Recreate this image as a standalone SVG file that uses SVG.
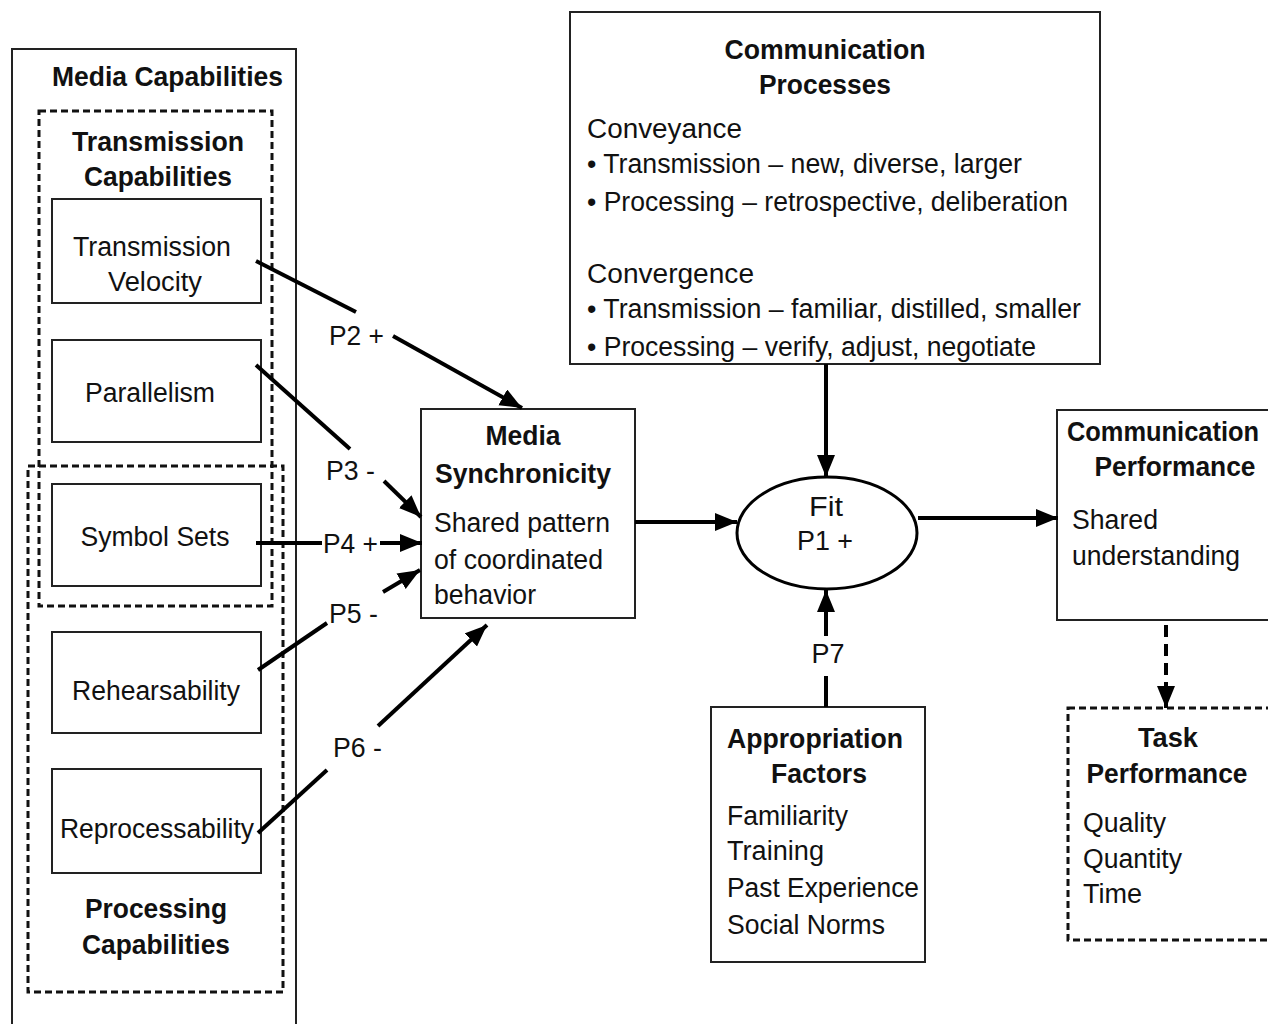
<svg xmlns="http://www.w3.org/2000/svg" width="1268" height="1024" viewBox="0 0 1268 1024">
<style>
text{font-family:"Liberation Sans",Arial,sans-serif;font-size:27px;fill:#111}
.b{font-weight:bold}
.m{text-anchor:middle}
.box{fill:#fff;stroke:#222;stroke-width:2}
.dash{fill:none;stroke:#111;stroke-width:3;stroke-dasharray:7 4}
.c{fill:none;stroke:#000;stroke-width:4}
</style>
<defs>
<marker id="ah" markerUnits="userSpaceOnUse" markerWidth="24" markerHeight="20" refX="22" refY="9" orient="auto">
<path d="M0,0 L22,9 L0,18 Z" fill="#000"/>
</marker>
</defs>
<rect width="1268" height="1024" fill="#fff"/>

<g id="media-capabilities">
<rect class="box" x="12" y="49" width="284" height="990"/>
<text class="b" x="52" y="86" textLength="231" lengthAdjust="spacingAndGlyphs">Media Capabilities</text>
</g>
<g id="transmission-capabilities">
<rect class="dash" x="39" y="111" width="233" height="495"/>
<text class="b m" x="158" y="151" textLength="172" lengthAdjust="spacingAndGlyphs">Transmission</text>
<text class="b m" x="158" y="186" textLength="148" lengthAdjust="spacingAndGlyphs">Capabilities</text>
</g>
<g id="processing-capabilities">
<rect class="dash" x="28" y="466" width="255" height="526"/>
<text class="b m" x="156" y="918" textLength="142" lengthAdjust="spacingAndGlyphs">Processing</text>
<text class="b m" x="156" y="954" textLength="148" lengthAdjust="spacingAndGlyphs">Capabilities</text>
</g>
<g id="transmission-velocity">
<rect class="box" x="52" y="199" width="209" height="104"/>
<text class="m" x="152" y="256" textLength="158" lengthAdjust="spacingAndGlyphs">Transmission</text>
<text class="m" x="155" y="291" textLength="94" lengthAdjust="spacingAndGlyphs">Velocity</text>
</g>
<g id="parallelism">
<rect class="box" x="52" y="340" width="209" height="102"/>
<text class="m" x="150" y="402" textLength="130" lengthAdjust="spacingAndGlyphs">Parallelism</text>
</g>
<g id="symbol-sets">
<rect class="box" x="52" y="484" width="209" height="102"/>
<text class="m" x="155" y="546" textLength="149" lengthAdjust="spacingAndGlyphs">Symbol Sets</text>
</g>
<g id="rehearsability">
<rect class="box" x="52" y="632" width="209" height="101"/>
<text class="m" x="156" y="700" textLength="168" lengthAdjust="spacingAndGlyphs">Rehearsability</text>
</g>
<g id="reprocessability">
<rect class="box" x="52" y="769" width="209" height="104"/>
<text class="m" x="157" y="838" textLength="194" lengthAdjust="spacingAndGlyphs">Reprocessability</text>
</g>

<g id="media-synchronicity">
<rect class="box" x="421" y="409" width="214" height="209"/>
<text class="b m" x="523" y="445" textLength="75" lengthAdjust="spacingAndGlyphs">Media</text>
<text class="b m" x="523" y="483" textLength="176" lengthAdjust="spacingAndGlyphs">Synchronicity</text>
<text x="434" y="532" textLength="176" lengthAdjust="spacingAndGlyphs">Shared pattern</text>
<text x="434" y="569" textLength="169" lengthAdjust="spacingAndGlyphs">of coordinated</text>
<text x="434" y="604" textLength="102" lengthAdjust="spacingAndGlyphs">behavior</text>
</g>

<g id="communication-processes">
<rect class="box" x="570" y="12" width="530" height="352"/>
<text class="b m" x="825" y="59" textLength="201" lengthAdjust="spacingAndGlyphs">Communication</text>
<text class="b m" x="825" y="94" textLength="132" lengthAdjust="spacingAndGlyphs">Processes</text>
<text x="587" y="138" textLength="155" lengthAdjust="spacingAndGlyphs">Conveyance</text>
<text x="587" y="173" textLength="435" lengthAdjust="spacingAndGlyphs">• Transmission – new, diverse, larger</text>
<text x="587" y="211" textLength="481" lengthAdjust="spacingAndGlyphs">• Processing – retrospective, deliberation</text>
<text x="587" y="283" textLength="167" lengthAdjust="spacingAndGlyphs">Convergence</text>
<text x="587" y="318" textLength="494" lengthAdjust="spacingAndGlyphs">• Transmission – familiar, distilled, smaller</text>
<text x="587" y="356" textLength="449" lengthAdjust="spacingAndGlyphs">• Processing – verify, adjust, negotiate</text>
</g>

<g id="fit">
<ellipse cx="827" cy="533" rx="90" ry="56" fill="#fff" stroke="#000" stroke-width="3"/>
<text class="m" x="826" y="516" textLength="34" lengthAdjust="spacingAndGlyphs">Fit</text>
<text class="m" x="825" y="550" textLength="56" lengthAdjust="spacingAndGlyphs">P1 +</text>
</g>

<g id="communication-performance">
<rect class="box" x="1057" y="410" width="230" height="210"/>
<text class="b" x="1067" y="441" font-size="26" textLength="192" lengthAdjust="spacingAndGlyphs">Communication</text>
<text class="b m" x="1175" y="476" textLength="161" lengthAdjust="spacingAndGlyphs">Performance</text>
<text x="1072" y="529" textLength="86" lengthAdjust="spacingAndGlyphs">Shared</text>
<text x="1072" y="565" textLength="168" lengthAdjust="spacingAndGlyphs">understanding</text>
</g>

<g id="appropriation-factors">
<rect class="box" x="711" y="707" width="214" height="255"/>
<text class="b m" x="815" y="748" textLength="176" lengthAdjust="spacingAndGlyphs">Appropriation</text>
<text class="b m" x="819" y="783" textLength="96" lengthAdjust="spacingAndGlyphs">Factors</text>
<text x="727" y="825" textLength="121" lengthAdjust="spacingAndGlyphs">Familiarity</text>
<text x="727" y="860" textLength="97" lengthAdjust="spacingAndGlyphs">Training</text>
<text x="727" y="897" textLength="192" lengthAdjust="spacingAndGlyphs">Past Experience</text>
<text x="727" y="934" textLength="158" lengthAdjust="spacingAndGlyphs">Social Norms</text>
</g>

<g id="task-performance">
<rect class="dash" x="1068" y="708" width="220" height="232"/>
<text class="b m" x="1168" y="747" textLength="60" lengthAdjust="spacingAndGlyphs">Task</text>
<text class="b m" x="1167" y="783" textLength="161" lengthAdjust="spacingAndGlyphs">Performance</text>
<text x="1083" y="832" textLength="83" lengthAdjust="spacingAndGlyphs">Quality</text>
<text x="1083" y="868" textLength="99" lengthAdjust="spacingAndGlyphs">Quantity</text>
<text x="1083" y="903" textLength="59" lengthAdjust="spacingAndGlyphs">Time</text>
</g>

<g id="connectors">
<line class="c" x1="256" y1="261" x2="356" y2="312"/>
<line class="c" x1="393" y1="336" x2="522" y2="408" marker-end="url(#ah)"/>
<text x="329" y="345" textLength="55" lengthAdjust="spacingAndGlyphs">P2 +</text>

<line class="c" x1="256" y1="365" x2="350" y2="449"/>
<line class="c" x1="384" y1="481" x2="421" y2="517" marker-end="url(#ah)"/>
<text x="326" y="480" textLength="49" lengthAdjust="spacingAndGlyphs">P3 -</text>

<line class="c" x1="256" y1="543" x2="322" y2="543"/>
<line class="c" x1="380" y1="543" x2="422" y2="543" marker-end="url(#ah)"/>
<text x="323" y="553" textLength="55" lengthAdjust="spacingAndGlyphs">P4 +</text>

<line class="c" x1="258" y1="670" x2="327" y2="623"/>
<line class="c" x1="383" y1="592" x2="420" y2="570" marker-end="url(#ah)"/>
<text x="329" y="623" textLength="49" lengthAdjust="spacingAndGlyphs">P5 -</text>

<line class="c" x1="258" y1="833" x2="327" y2="770"/>
<line class="c" x1="378" y1="726" x2="487" y2="625" marker-end="url(#ah)"/>
<text x="333" y="757" textLength="49" lengthAdjust="spacingAndGlyphs">P6 -</text>

<line class="c" x1="635" y1="522" x2="737" y2="522" marker-end="url(#ah)"/>
<line class="c" x1="826" y1="364" x2="826" y2="477" marker-end="url(#ah)"/>
<line class="c" x1="918" y1="518" x2="1058" y2="518" marker-end="url(#ah)"/>
<line class="c" x1="826" y1="707" x2="826" y2="676"/>
<line class="c" x1="826" y1="636" x2="826" y2="590" marker-end="url(#ah)"/>
<text class="m" x="828" y="663" textLength="33" lengthAdjust="spacingAndGlyphs">P7</text>
<line class="c" x1="1166" y1="625" x2="1166" y2="708" stroke-dasharray="12 7" marker-end="url(#ah)"/>
</g>
</svg>
